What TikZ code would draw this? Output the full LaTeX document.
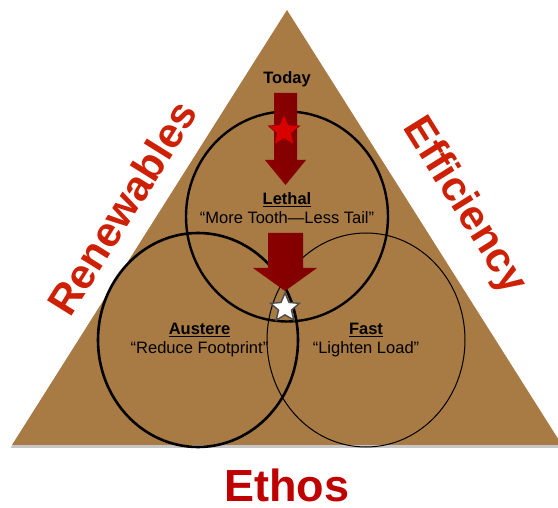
\documentclass[tikz,border=0pt]{standalone}
\usepackage{fontspec}
\setmainfont{Liberation Sans}
\usetikzlibrary{shapes.geometric,shadows}
\definecolor{tribrown}{RGB}{168,122,68}
\definecolor{sidered}{RGB}{206,32,4}
\definecolor{ethosred}{RGB}{192,0,0}
\definecolor{arrowmid}{RGB}{196,28,28}

\begin{document}
\begin{tikzpicture}[x=1pt, y=-1pt,
    ring/.style = {draw, ellipse, inner sep=0pt},
    lbl/.style = {align=center, font=\fontsize{16.5}{19.5}\selectfont},
    side/.style = {text=sidered, font=\fontsize{42}{42}\selectfont\bfseries},
    downarrow/.style = {left color=red!55!black, middle color=arrowmid, right color=red!50!black},
    badge/.style = {star, star points=5, star point ratio=2.2, inner sep=0pt, minimum size=33pt}]
    \useasboundingbox (0,0) rectangle (558,508);
    % base triangle
    \fill[tribrown, drop shadow={shadow xshift=-1.5pt, shadow yshift=-3pt, opacity=0.45}]
        (287,10) -- (562,445) -- (12,445) -- cycle;
    % the three rings
    \node[ring, line width=2.4pt, minimum width=202pt, minimum height=210pt] (lethal) at (287,216.5) {};
    \node[ring, line width=2.6pt, minimum width=200pt, minimum height=214pt] (austere) at (198,340) {};
    \node[ring, line width=1pt, minimum width=198pt, minimum height=214pt] (fast) at (366,340) {};
    % texts
    \node[lbl, font=\fontsize{16.5}{19.5}\selectfont\bfseries] (today) at (287,79) {Today};
    \node[lbl] (lethaltxt) at (287,208) {\textbf{\underline{Lethal}}\\“More Tooth—Less Tail”};
    \node[lbl] (austeretxt) at (199.5,340) {\textbf{\underline{Austere}}\\“Reduce Footprint”};
    \node[lbl] (fasttxt) at (366,340) {\textbf{\underline{Fast}}\\“Lighten Load”};
    \node[side, rotate=58] (renew) at (122,208) {Renewables};
    \node[side, rotate=-58] (effic) at (464,206) {Efficiency};
    \node[text=ethosred, font=\fontsize{45}{45}\selectfont\bfseries] (ethos) at (287,485) {Ethos};
    % arrows
    \shade[downarrow] (274,93) -- (297,93) -- (297,160) -- (306,160) -- (285.5,185)
        -- (265,160) -- (274,160) -- cycle;
    \shade[downarrow] (268,233) -- (303,233) -- (303,268) -- (317,268) -- (285,291)
        -- (253,268) -- (268,268) -- cycle;
    % stars
    \node[badge, fill=red!85!black, draw=red!55!black, line width=0.6pt] (redstar) at (284,131) {};
    \node[badge, fill=white, draw=gray!60!black, line width=1.4pt, minimum size=30pt] (whitestar) at (285,308) {};
\end{tikzpicture}
\end{document}
